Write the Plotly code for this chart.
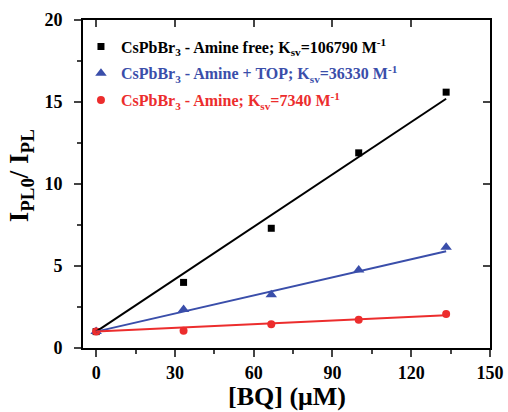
import plotly.graph_objects as go

# Data
bq_um = [0, 33.3, 66.7, 100, 133.3]
amine_free = [1.0, 4.0, 7.3, 11.9, 15.6]
amine_top = [1.0, 2.35, 3.25, 4.75, 6.15]
amine = [1.0, 1.05, 1.45, 1.72, 2.08]

fit_x = [0, 133.3]
fit_free = [1.0, 15.2]
fit_top = [1.0, 5.9]
fit_amine = [1.0, 2.0]

names = [
    'CsPbBr<sub>3</sub> - Amine free; K<sub>sv</sub>=106790 M<sup>-1</sup>',
    'CsPbBr<sub>3</sub> - Amine + TOP; K<sub>sv</sub>=36330 M<sup>-1</sup>',
    'CsPbBr<sub>3</sub> - Amine; K<sub>sv</sub>=7340 M<sup>-1</sup>',
]
colors = ['#000000', 'rgb(58,78,170)', 'rgb(236,45,45)']
symbols = ['square', 'triangle-up', 'circle']
sizes = [7, 10, 8]
series = [amine_free, amine_top, amine]
fits = [fit_free, fit_top, fit_amine]

x_title = '<b>[BQ] (μM)</b>'
y_title = '<b>I<sub>PL0</sub>/ I<sub>PL</sub></b>'

FONT = 'Liberation Serif'
fig = go.Figure()

for f, c in zip(fits, colors):
    fig.add_trace(go.Scatter(x=fit_x, y=f, mode='lines', xaxis='x2', yaxis='y2',
                             line=dict(color=c, width=2), showlegend=False, hoverinfo='skip'))

for i, (n, s, c, sym, sz) in enumerate(zip(names, series, colors, symbols, sizes)):
    fig.add_trace(go.Scatter(x=bq_um, y=s, mode='markers', legendgroup=f'g{i}',
                             name=f'<b><span style="color:{c}">{n}</span></b>',
                             marker=dict(color=c, symbol=sym, size=sz)))

xr = [-5, 150]
yr = [0, 20]
fig.update_layout(
    width=508, height=412,
    margin=dict(l=83, r=18, t=20, b=64, autoexpand=False),
    paper_bgcolor='white', plot_bgcolor='white',
    font=dict(family=FONT, color='black'),
    xaxis=dict(range=xr, tickmode='linear', tick0=0, dtick=30, ticks='outside', ticklen=7, tickwidth=2,
               minor=dict(ticks='outside', dtick=15, tick0=0, ticklen=4, tickwidth=2),
               showline=True, linewidth=2, linecolor='black', showgrid=False, zeroline=False,
               tickfont=dict(size=18, family=FONT), tickprefix='<b>', ticksuffix='</b>'),
    yaxis=dict(range=yr, tickmode='linear', tick0=0, dtick=5, ticks='outside', ticklen=7, tickwidth=2,
               minor=dict(ticks='outside', dtick=2.5, tick0=0, ticklen=4, tickwidth=2),
               showline=True, linewidth=2, linecolor='black', showgrid=False, zeroline=False,
               tickfont=dict(size=18, family=FONT), tickprefix='<b>', ticksuffix='</b>',
               ticklabelstandoff=8),
    xaxis2=dict(range=xr, overlaying='x', side='top', anchor='y', tickmode='linear', tick0=0, dtick=30,
                ticks='inside', ticklen=7, tickwidth=2, showticklabels=False, showline=True, linewidth=2,
                linecolor='black', showgrid=False, zeroline=False),
    yaxis2=dict(range=yr, overlaying='y', side='right', anchor='x', tickmode='linear', tick0=0, dtick=5,
                ticks='inside', ticklen=7, tickwidth=2, showticklabels=False, showline=True, linewidth=2,
                linecolor='black', showgrid=False, zeroline=False),
    legend=dict(x=-0.005, y=0.971, xanchor='left', yanchor='top', bgcolor='rgba(0,0,0,0)',
                font=dict(size=16, family=FONT), tracegroupgap=3, itemsizing='trace'),
    annotations=[
        dict(text=x_title, xref='paper', yref='paper', x=0.5, y=-0.149, xanchor='center', yanchor='middle',
             showarrow=False, font=dict(size=26, family=FONT)),
        dict(text=y_title, xref='paper', yref='paper', x=-0.152, y=0.524, xanchor='center', yanchor='middle',
             textangle=-90, showarrow=False, font=dict(size=27, family=FONT)),
    ],
)

fig.write_html('out.html', config={'displayModeBar': False},
               post_script="document.body.style.margin='0';document.body.style.padding='0';")
